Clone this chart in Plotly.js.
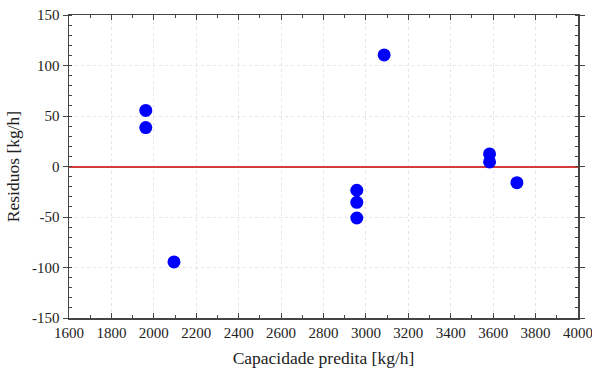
<!DOCTYPE html>
<html>
<head>
<meta charset="utf-8">
<script src="https://cdn.plot.ly/plotly-3.0.1.min.js"></script>
<style>html,body{margin:0;padding:0;background:#fff;}#chart{width:592px;height:370px;}</style>
</head>
<body>
<div id="chart"></div>
<script>
const predicted = [1962, 1962, 2095, 3086, 2957, 2957, 2957, 3583, 3583, 3712];
const residuals = [55.5, 38.5, -94.5, 110.5, -23.5, -35.5, -51, 12.5, 4.5, -16];
const xTicks = [1600,1800,2000,2200,2400,2600,2800,3000,3200,3400,3600,3800,4000];
const yTicks = [-150,-100,-50,0,50,100,150];

const ff = '"Liberation Serif", "Times New Roman", serif';
const font = {family: ff, size: 15, color: '#222'};
const data = [{
  x: predicted, y: residuals, type: 'scatter', mode: 'markers',
  marker: {color: '#0000ff', size: 13},
  hoverinfo: 'skip'
}];
const layout = {
  width: 592, height: 370,
  margin: {l: 69, r: 14, t: 15, b: 52},
  paper_bgcolor: '#fff', plot_bgcolor: '#fff',
  font: font,
  showlegend: false,
  xaxis: {
    range: [1600, 4000], tickvals: xTicks, ticktext: xTicks.map(String),
    ticklabeloverflow: 'allow',
    showline: true, linecolor: '#444', linewidth: 1.5, mirror: 'allticks',
    ticks: 'inside', ticklen: 5, tickcolor: '#444',
    showgrid: true, gridcolor: '#e6e6e6', griddash: 'dot', gridwidth: 1,
    zeroline: false,
    minor: {dtick: 100, ticks: 'inside', ticklen: 3, tickcolor: '#444', showgrid: false},
    title: {text: 'Capacidade predita [kg/h]', font: {family: ff, size: 17.5, color: '#222'}, standoff: 12},
    tickfont: font
  },
  yaxis: {
    range: [-150, 150], tickvals: yTicks, ticktext: yTicks.map(String),
    ticklabeloverflow: 'allow',
    showline: true, linecolor: '#444', linewidth: 1.5, mirror: 'allticks',
    ticks: 'outside', ticklen: 5, tickcolor: '#444',
    showgrid: true, gridcolor: '#e6e6e6', griddash: 'dot', gridwidth: 1,
    zeroline: true, zerolinecolor: '#d63a3a', zerolinewidth: 2,
    minor: {dtick: 10, ticks: 'inside', ticklen: 3, tickcolor: '#444', showgrid: false},
    title: {text: 'Residuos [kg/h]', font: {family: ff, size: 17.5, color: '#222'}, standoff: 8},
    tickfont: font
  }
};
Plotly.newPlot('chart', data, layout, {staticPlot: true, displayModeBar: false});
</script>
</body>
</html>
